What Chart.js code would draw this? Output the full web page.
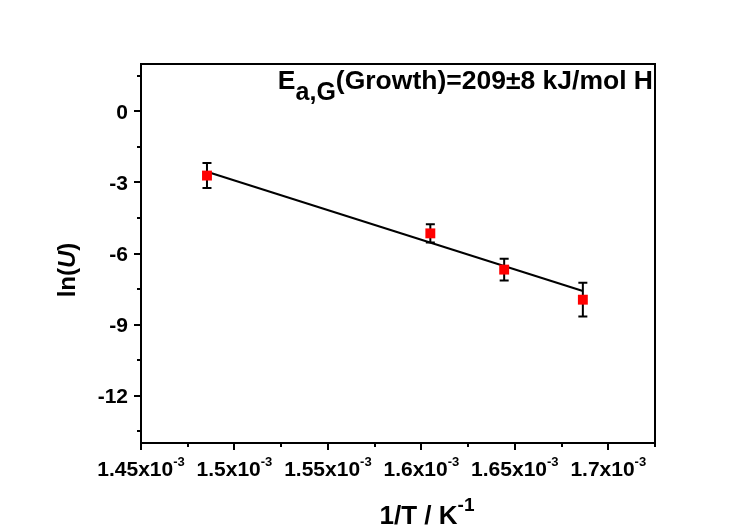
<!DOCTYPE html>
<html><head><meta charset="utf-8">
<script src="https://cdn.jsdelivr.net/npm/chart.js@4"></script>
<style>html,body{margin:0;padding:0;background:#fff}#wrap{width:747px;height:526px;position:relative}</style>
</head><body><div id="wrap"><canvas id="c" width="747" height="526"></canvas></div>
<script>
// ---- data ----
const invT = [1.4853e-3, 1.6048e-3, 1.6443e-3, 1.6864e-3];
const lnU = [-2.71, -5.15, -6.68, -7.95];
const lnUErr = [0.53, 0.39, 0.46, 0.71];
const fitX = [1.4853e-3, 1.6864e-3];
const fitY = [-2.55, -7.58];
const xMajorTicks = [1.45e-3, 1.5e-3, 1.55e-3, 1.6e-3, 1.65e-3, 1.7e-3];
const xTickLabels = ['1.45x10', '1.5x10', '1.55x10', '1.6x10', '1.65x10', '1.7x10'];
const xTickExp = '-3';
const xMinorTicks = [1.475e-3, 1.525e-3, 1.575e-3, 1.625e-3, 1.675e-3, 1.725e-3];
const yMajorTicks = [0, -3, -6, -9, -12];
const yTickLabels = ['0', '-3', '-6', '-9', '-12'];
const yMinorTicks = [1.5, -1.5, -4.5, -7.5, -10.5, -13.5];

// ---- style ----
const FONT = '"Liberation Sans", Arial, sans-serif';
const SX = 1.0;

function fontStr(size, italic) { return (italic ? 'italic ' : '') + 'bold ' + size + 'px ' + FONT; }
function richWidth(ctx, parts) {
  let w = 0;
  for (const p of parts) { ctx.font = fontStr(p.size, p.italic); w += ctx.measureText(p.t).width; }
  return w * SX;
}
function drawRich(ctx, parts, x, y, align) {
  const w = richWidth(ctx, parts);
  let x0 = align === 'center' ? x - w / 2 : (align === 'right' ? x - w : x);
  ctx.save();
  ctx.translate(x0, y);
  ctx.scale(SX, 1);
  ctx.textBaseline = 'alphabetic';
  ctx.textAlign = 'left';
  ctx.fillStyle = '#000';
  let cx = 0;
  for (const p of parts) {
    ctx.font = fontStr(p.size, p.italic);
    ctx.fillText(p.t, cx, p.dy || 0);
    cx += ctx.measureText(p.t).width;
  }
  ctx.restore();
}

const decorPlugin = {
  id: 'decor',
  beforeDatasetsDraw(chart) {
    const ctx = chart.ctx, xs = chart.scales.x, ys = chart.scales.y;
    ctx.save();
    ctx.strokeStyle = '#000';
    ctx.lineWidth = 2;
    const cap = 4.5;
    for (let i = 0; i < invT.length; i++) {
      const px = xs.getPixelForValue(invT[i]);
      const pt = ys.getPixelForValue(lnU[i] + lnUErr[i]);
      const pb = ys.getPixelForValue(lnU[i] - lnUErr[i]);
      ctx.beginPath();
      ctx.moveTo(px, pt); ctx.lineTo(px, pb);
      ctx.moveTo(px - cap, pt); ctx.lineTo(px + cap, pt);
      ctx.moveTo(px - cap, pb); ctx.lineTo(px + cap, pb);
      ctx.stroke();
    }
    ctx.restore();
  },
  afterDraw(chart) {
    const ctx = chart.ctx, xs = chart.scales.x, ys = chart.scales.y;
    const a = chart.chartArea;
    ctx.save();
    ctx.strokeStyle = '#000';
    ctx.lineWidth = 2;
    ctx.strokeRect(a.left, a.top, a.right - a.left, a.bottom - a.top);
    ctx.beginPath();
    for (const v of yMajorTicks) { const p = Math.round(ys.getPixelForValue(v)); ctx.moveTo(a.left - 7, p); ctx.lineTo(a.left, p); }
    for (const v of yMinorTicks) { const p = Math.round(ys.getPixelForValue(v)); ctx.moveTo(a.left - 4, p); ctx.lineTo(a.left, p); }
    for (const v of xMajorTicks) { const p = Math.round(xs.getPixelForValue(v)); ctx.moveTo(p, a.bottom); ctx.lineTo(p, a.bottom + 7); }
    for (const v of xMinorTicks) { const p = Math.round(xs.getPixelForValue(v)); ctx.moveTo(p, a.bottom); ctx.lineTo(p, a.bottom + 4); }
    ctx.stroke();
    yMajorTicks.forEach((v, i) => {
      const p = ys.getPixelForValue(v);
      drawRich(ctx, [{t: yTickLabels[i], size: 21}], a.left - 13, p + 7.5, 'right');
    });
    xMajorTicks.forEach((v, i) => {
      const p = xs.getPixelForValue(v);
      drawRich(ctx, [{t: xTickLabels[i], size: 21}, {t: xTickExp, size: 13, dy: -10}], p, a.bottom + 33, 'center');
    });
    drawRich(ctx, [{t: '1/T / K', size: 26}, {t: '-1', size: 19, dy: -13}], 427, 524, 'center');
    ctx.save();
    ctx.translate(75, 270);
    ctx.rotate(-Math.PI / 2);
    drawRich(ctx, [{t: 'ln(', size: 24}, {t: 'U', size: 24, italic: true}, {t: ')', size: 24}], 0, 0, 'center');
    ctx.restore();
    drawRich(ctx, [{t: 'E', size: 26.5}, {t: 'a,G', size: 25, dy: 11}, {t: '(Growth)=209\u00B18 kJ/mol H', size: 26.5}], 653, 89, 'right');
    ctx.restore();
  }
};

new Chart(document.getElementById('c'), {
  type: 'scatter',
  data: {
    datasets: [
      {
        label: 'ln(U)',
        data: invT.map((x, i) => ({x: x, y: lnU[i]})),
        pointStyle: 'rect',
        pointRadius: 7,
        pointHoverRadius: 7,
        backgroundColor: '#ff0000',
        borderWidth: 0
      },
      {
        type: 'line',
        label: 'fit',
        data: fitX.map((x, i) => ({x: x, y: fitY[i]})),
        borderColor: '#000',
        borderWidth: 2,
        pointRadius: 0,
        fill: false,
        tension: 0
      }
    ]
  },
  options: {
    responsive: false,
    animation: false,
    devicePixelRatio: 1,
    layout: {padding: {left: 0, top: 64, right: 92, bottom: 0}},
    plugins: {legend: {display: false}, tooltip: {enabled: false}},
    scales: {
      x: {
        type: 'linear', min: 1.45e-3, max: 1.725e-3,
        ticks: {display: false}, grid: {display: false}, border: {display: false},
        afterFit(s) { s.height = 83; }
      },
      y: {
        type: 'linear', min: -14, max: 2,
        ticks: {display: false}, grid: {display: false}, border: {display: false},
        afterFit(s) { s.width = 141; }
      }
    }
  },
  plugins: [decorPlugin]
});
</script>
</body></html>
